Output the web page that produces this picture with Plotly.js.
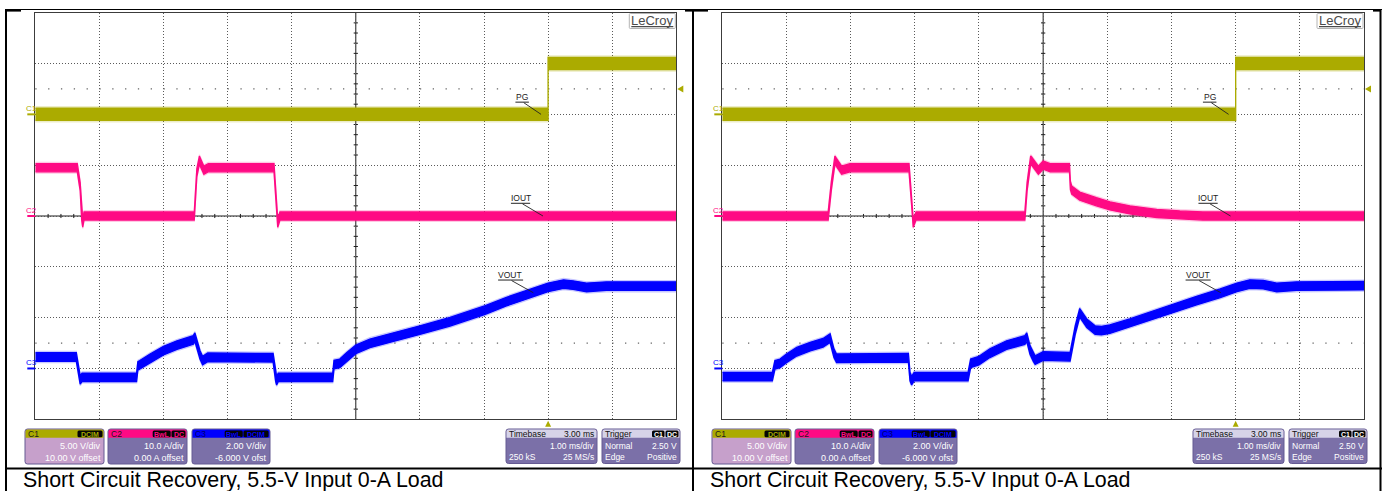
<!DOCTYPE html>
<html>
<head>
<meta charset="utf-8">
<script src="https://cdn.plot.ly/plotly-3.0.1.min.js"></script>
<style>
  html, body { margin: 0; padding: 0; background: #fff; }
  #scope { width: 1385px; height: 491px; }
</style>
</head>
<body>
<div id="scope"></div>
<script>
// ---- Captured waveforms (time in ms relative to the trigger) ----
// Left capture
const leftPgT   = [-8, 0, 0, 2];
const leftPgV   = [0, 0, 5, 5];
const leftIoutT = [-8, -7.345, -7.30, -7.276, -7.26, -7.24, -5.52, -5.48, -5.44, -5.37, -5.30, -4.276, -4.245, -4.218, -4.183, 2];
const leftIoutA = [9.5, 9.5, 5.8, 0, -1.4, 0, 0, 8.5, 11.0, 9.0, 9.5, 9.5, 3.1, -1.4, 0, 0];
const leftVoutT = [-8, -7.36, -7.33, -7.30, -7.27, -6.42, -6.40, -6.37, -6.21, -6.00, -5.79, -5.535, -5.51, -5.43, -5.39,
                   -5.31, -4.29, -4.25, -4.235, -4.21, -3.36, -3.34, -3.25, -3.14, -3.00, -2.78, -2.47, -2.00, -1.53, -0.98,
                   -0.65, -0.33, 0.00, 0.24, 0.39, 0.60, 0.91, 2.00];
const leftVoutV = [0.45, 0.45, 0.0, -0.45, -0.35, -0.35, 0.10, 0.14, 0.40, 0.70, 0.92, 1.12, 1.23, 0.53, 0.31,
                   0.44, 0.42, -0.35, -0.48, -0.35, -0.35, 0.15, 0.20, 0.46, 0.75, 0.99, 1.19, 1.51, 1.84, 2.30,
                   2.63, 2.92, 3.19, 3.32, 3.28, 3.19, 3.24, 3.24];

// Right capture
const rightPgT   = [-8, 0, 0, 2];
const rightPgV   = [0, 0, 5, 5];
const rightIoutT = [-8, -6.35, -6.30, -6.245, -6.14, -6.01, -5.09, -5.05, -5.025, -4.98, -3.285, -3.25, -3.195, -3.18,
                    -3.075, -3.0, -2.89, -2.59, -2.575, -2.555, -2.43, -2.17, -1.96, -1.65, -1.23, -0.87, -0.51, 2];
const rightIoutA = [0, 0, 6.0, 11.0, 9.0, 9.5, 9.5, 3.0, -1.4, 0, 0, 5.8, 11.0, 10.8,
                    9.0, 10.0, 9.5, 9.5, 6.0, 5.1, 3.9, 2.8, 2.0, 1.2, 0.5, 0.2, 0, 0];
const rightVoutT = [-8, -7.22, -7.18, -7.10, -7.00, -6.84, -6.63, -6.43, -6.32, -6.26, -6.22, -5.10, -5.075, -5.05, -5.01,
                    -4.17, -4.13, -4.00, -3.83, -3.57, -3.285, -3.255, -3.205, -3.155, -3.125, -3.00, -2.58, -2.50, -2.43, -2.32,
                    -2.19, -2.09, -1.96, -1.65, -1.23, -0.97, -0.61, -0.24, 0.02, 0.22, 0.43, 0.64, 0.95, 2.0];
const rightVoutV = [-0.32, -0.32, 0.14, 0.20, 0.40, 0.66, 0.86, 1.01, 1.19, 0.60, 0.40, 0.42, -0.32, -0.48, -0.32,
                    -0.32, 0.20, 0.31, 0.60, 0.92, 1.12, 1.23, 0.73, 0.46, 0.33, 0.49, 0.46, 1.51, 2.19, 1.78,
                    1.51, 1.49, 1.55, 1.78, 2.14, 2.37, 2.67, 2.96, 3.19, 3.32, 3.30, 3.19, 3.24, 3.26];

// Scope settings shown in the readout boxes
const channelNames  = ['C1', 'C2', 'C3'];
const traceLabels   = ['PG', 'IOUT', 'VOUT'];
const scaleText     = ['5.00 V/div', '10.0 A/div', '2.00 V/div'];
const offsetText    = ['10.00 V offset', '0.00 A offset', '-6.000 V ofst'];
const couplingTags  = [['DCIM'], ['BwL', 'DC'], ['BwL', 'DCIM']];
const voltsPerDiv   = [5, 10, 2];
const offsets       = [10, 0, -6];
const timeRange     = [-8, 2];          // 1.00 ms/div, trigger at 8th division
const triggerLevel  = 2.5;              // V on C1
const captionText   = 'Short Circuit Recovery, 5.5-V Input 0-A Load';

// ---- Styling ----
const W = 1385, H = 491;
const FONT = 'Liberation Sans, Arial, sans-serif';
const COLORS = ['#ABAB00', '#FF0A84', '#0000FF'];
const HALF_CORE = [0.6, 0.8, 0.17];      // noise band half-height per channel (channel units)
const HALF_FUZZ = [0.75, 1.05, 0.22];
const GRID = '#5a5a5a', FRAME = '#3c3c3c';
const BODY = '#7B70A8', BODY_SEL = '#C6A0CB', HEAD_LIGHT = '#D6D3E8';

const px = x => x / W;
const py = y => 1 - y / H;
const gridTop = 12.7, gridBot = 419.3;

const panels = [
  { x0: 35.3, x1: 676.3, dx: 0,   xa: 'x',  ya: ['y', 'y2', 'y3'],
    data: [[leftPgT, leftPgV], [leftIoutT, leftIoutA], [leftVoutT, leftVoutV]], captionX: 22 },
  { x0: 722.3, x1: 1364.0, dx: 687, xa: 'x2', ya: ['y4', 'y5', 'y6'],
    data: [[rightPgT, rightPgV], [rightIoutT, rightIoutA], [rightVoutT, rightVoutV]], captionX: 709 }
];

const chRange = i => [-offsets[i] - 4 * voltsPerDiv[i], -offsets[i] + 4 * voltsPerDiv[i]];
const toDiv = (i, v) => (v - chRange(i)[0]) / voltsPerDiv[i];

function band(t, v, half) {
  const x = t.concat(t.slice().reverse());
  const y = v.map(a => a + half).concat(v.slice().reverse().map(a => a - half));
  return { x, y };
}

const traces = [];
const shapes = [];
const annotations = [];
const layout = {
  width: W, height: H,
  margin: { l: 0, r: 0, t: 0, b: 0 },
  paper_bgcolor: '#ffffff', plot_bgcolor: '#ffffff',
  showlegend: false,
  font: { family: FONT, color: '#000' },
  shapes, annotations
};

const P = (x, y) => `${px(x)},${py(y)}`;
function roundRect(x0, y0, x1, y1, r, topOnly) {
  const rb = topOnly ? 0 : r;
  return `M${P(x0 + r, y0)} L${P(x1 - r, y0)} Q${P(x1, y0)} ${P(x1, y0 + r)} ` +
         `L${P(x1, y1 - rb)} Q${P(x1, y1)} ${P(x1 - rb, y1)} L${P(x0 + rb, y1)} Q${P(x0, y1)} ${P(x0, y1 - rb)} ` +
         `L${P(x0, y0 + r)} Q${P(x0, y0)} ${P(x0 + r, y0)} Z`;
}
function pathShape(d, fill, line, lw) {
  shapes.push({ type: 'path', xref: 'paper', yref: 'paper', path: d, fillcolor: fill,
                line: { color: line || fill, width: lw === undefined ? 0 : lw }, layer: 'above' });
}
function pline(x0, y0, x1, y1, color, width) {
  shapes.push({ type: 'line', xref: 'paper', yref: 'paper', x0: px(x0), y0: py(y0), x1: px(x1), y1: py(y1),
                line: { color, width }, layer: 'above' });
}
function ptext(x, y, text, size, color, anchor, weight) {
  annotations.push({ xref: 'paper', yref: 'paper', x: px(x), y: py(y), text, showarrow: false,
                     xanchor: anchor || 'left', yanchor: 'middle', borderpad: 0,
                     font: { family: FONT, size, color, weight: weight || 'normal' } });
}

panels.forEach((p, pi) => {
  const xName = p.xa, xKey = pi === 0 ? 'xaxis' : 'xaxis2';
  const baseY = p.ya[0];
  const divW = (p.x1 - p.x0) / 10, divH = (gridBot - gridTop) / 8;

  layout[xKey] = {
    domain: [px(p.x0), px(p.x1)], anchor: baseY, range: timeRange, dtick: 1, tick0: 0,
    showgrid: true, gridcolor: GRID, griddash: '1px,2px', gridwidth: 1, zeroline: false,
    showline: true, mirror: true, linecolor: FRAME, linewidth: 1,
    showticklabels: false, ticks: '', fixedrange: true
  };
  p.ya.forEach((yName, ci) => {
    const key = 'yaxis' + (yName === 'y' ? '' : yName.slice(1));
    const r = chRange(ci);
    if (ci === 0) {
      layout[key] = {
        domain: [py(gridBot), py(gridTop)], anchor: xName, range: r, dtick: voltsPerDiv[ci], tick0: r[0],
        showgrid: true, gridcolor: GRID, griddash: '1px,2px', gridwidth: 1, zeroline: false,
        showline: true, mirror: true, linecolor: FRAME, linewidth: 1,
        showticklabels: false, ticks: '', fixedrange: true
      };
    } else {
      layout[key] = { overlaying: baseY, anchor: xName, range: r, visible: false, fixedrange: true };
    }
  });

  // waveforms: faint outer noise band, then the dense core band
  p.data.forEach(([t, v], ci) => {
    [[HALF_FUZZ[ci], 0.22], [HALF_CORE[ci], 1]].forEach(([half, op]) => {
      const b = band(t, v, half);
      traces.push({
        type: 'scatter', mode: 'lines', x: b.x, y: b.y, xaxis: xName, yaxis: p.ya[ci],
        fill: 'toself', fillcolor: COLORS[ci], opacity: op,
        line: { color: COLORS[ci], width: 1.3 }, hoverinfo: 'skip'
      });
    });
  });

  // centre graticule with minor ticks
  const xd = xName + ' domain', yd = baseY + ' domain';
  const g = { type: 'line', xref: xd, yref: yd, layer: 'below' };
  shapes.push({ ...g, x0: 0, x1: 1, y0: 0.5, y1: 0.5, line: { color: '#1e1e1e', width: 1 } });
  shapes.push({ ...g, x0: 0.5, x1: 0.5, y0: 0, y1: 1, line: { color: '#1e1e1e', width: 1 } });
  for (let k = 1; k < 50; k++) {
    if (k % 5 === 0) continue;
    shapes.push({ ...g, x0: k / 50, x1: k / 50, y0: 0.5 - 0.005, y1: 0.5 + 0.005, line: { color: '#1e1e1e', width: 1 } });
  }
  for (let k = 1; k < 40; k++) {
    if (k % 5 === 0) continue;
    shapes.push({ ...g, x0: 0.5 - 0.0033, x1: 0.5 + 0.0033, y0: k / 40, y1: k / 40, line: { color: '#1e1e1e', width: 1 } });
  }
  // sparse level markers
  const trigDiv = toDiv(0, triggerLevel);
  [trigDiv, 1.5].forEach(d => {
    shapes.push({ ...g, x0: 0, x1: 1, y0: d / 8, y1: d / 8,
                  line: { color: '#666', width: 1.3, dash: `1.3px,${(divW / 5 - 1.3).toFixed(2)}px` } });
  });

  // trace name labels with leaders
  const lab = [
    { text: traceLabels[0], tx: 7.60, ty: 6.34, u0: 7.49, u1: 7.70, uy: 6.24, l: [7.62, 6.23, 7.89, 6.00] },
    { text: traceLabels[1], tx: 7.57, ty: 4.35, u0: 7.42, u1: 7.72, uy: 4.25, l: [7.60, 4.24, 7.92, 4.00] },
    { text: traceLabels[2], tx: 7.41, ty: 2.84, u0: 7.22, u1: 7.61, uy: 2.74, l: [7.43, 2.73, 7.77, 2.49] }
  ];
  lab.forEach(o => {
    annotations.push({ xref: xd, yref: yd, x: o.tx / 10, y: o.ty / 8, text: o.text, showarrow: false,
                       xanchor: 'center', yanchor: 'middle', borderpad: 0, font: { family: FONT, size: 8.5, color: '#222' } });
    shapes.push({ type: 'line', xref: xd, yref: yd, x0: o.u0 / 10, x1: o.u1 / 10, y0: o.uy / 8, y1: o.uy / 8,
                  line: { color: '#222', width: 1 }, layer: 'above' });
    shapes.push({ type: 'line', xref: xd, yref: yd, x0: o.l[0] / 10, y0: o.l[1] / 8, x1: o.l[2] / 10, y1: o.l[3] / 8,
                  line: { color: '#222', width: 0.9 }, layer: 'above' });
  });

  // channel ground markers at the left of the graticule
  channelNames.forEach((nm, ci) => {
    const gy = gridBot - toDiv(ci, 0) * divH;
    pline(p.x0 - 8, gy, p.x0, gy, COLORS[ci], 2);
    ptext(p.x0 - 10.5, gy - 5.5, nm, 8, COLORS[ci], 'left');
  });

  // trigger level arrow (right) and trigger position arrow (bottom)
  const ty = gridBot - trigDiv * divH;
  pathShape(`M${P(p.x1 + 7, ty - 3.5)} L${P(p.x1 + 7, ty + 3.5)} L${P(p.x1 + 1, ty)} Z`, COLORS[0]);
  const tx = p.x0 + (0 - timeRange[0]) * divW;
  pathShape(`M${P(tx - 3, gridBot + 7.5)} L${P(tx + 3, gridBot + 7.5)} L${P(tx, gridBot + 1.5)} Z`, COLORS[0]);

  // LeCroy badge
  const lx0 = p.x1 - 47, lx1 = p.x1 - 1;
  pathShape(roundRect(lx0, 13.5, lx1, 28.5, 1, false), '#ffffff', '#b4b4b4', 1);
  ptext((lx0 + lx1) / 2, 20.3, 'LeCroy', 13, '#4a4a4a', 'center');
  pline(lx0 + 2, 26.6, lx1 - 2, 26.6, '#4a4a4a', 1.2);

  // channel readout boxes
  const boxes = [[25, 104], [108, 187], [192, 270]];
  const tagW = { DCIM: 25, BwL: 18, DC: 14 };
  boxes.forEach(([bx0, bx1], ci) => {
    const x0 = bx0 + p.dx, x1 = bx1 + p.dx;
    pathShape(roundRect(x0, 429, x1, 464, 2.5, false), ci === 0 ? BODY_SEL : BODY, '#655a92', 1);
    pathShape(roundRect(x0 + 0.5, 429.5, x1 - 0.5, 437.8, 2, true), COLORS[ci]);
    ptext(x0 + 2, 433.6, channelNames[ci], 8.5, ci === 2 ? '#00006a' : '#1a1a1a', 'left');
    let tr = x1 - 1.5;
    couplingTags[ci].slice().reverse().forEach(tag => {
      const w = tagW[tag];
      pathShape(roundRect(tr - w, 430.6, tr, 437.2, 1.5, false), '#050505');
      ptext(tr - w / 2, 434, tag, 7, COLORS[ci], 'center', 'bold');
      tr -= w + 0.8;
    });
    ptext(x1 - 2, 445.8, scaleText[ci], 9, '#ffffff', 'right');
    ptext(x1 - 2, 457.6, offsetText[ci], 9, '#ffffff', 'right');
  });

  // timebase and trigger readouts
  const tb0 = 506 + p.dx, tb1 = 597 + p.dx;
  pathShape(roundRect(tb0, 429, tb1, 463.5, 2.5, false), BODY, '#655a92', 1);
  pathShape(roundRect(tb0 + 0.5, 429.5, tb1 - 0.5, 437.8, 2, true), HEAD_LIGHT);
  ptext(tb0 + 2, 433.6, 'Timebase', 8.5, '#111', 'left');
  ptext(tb1 - 2, 433.6, '3.00 ms', 8.5, '#111', 'right');
  ptext(tb1 - 2, 445.8, '1.00 ms/div', 8.5, '#ffffff', 'right');
  ptext(tb0 + 2, 457.4, '250 kS', 8.5, '#ffffff', 'left');
  ptext(tb1 - 2, 457.4, '25 MS/s', 8.5, '#ffffff', 'right');

  const tg0 = 602 + p.dx, tg1 = 680 + p.dx;
  pathShape(roundRect(tg0, 429, tg1, 463.5, 2.5, false), BODY, '#655a92', 1);
  pathShape(roundRect(tg0 + 0.5, 429.5, tg1 - 0.5, 437.8, 2, true), HEAD_LIGHT);
  ptext(tg0 + 2, 433.6, 'Trigger', 8.5, '#111', 'left');
  pathShape(roundRect(tg1 - 28, 430.6, tg1 - 15.5, 437.2, 1.5, false), '#050505');
  ptext(tg1 - 21.8, 434, 'C1', 7, '#ffffff', 'center', 'bold');
  pathShape(roundRect(tg1 - 14.5, 430.6, tg1 - 1.5, 437.2, 1.5, false), '#050505');
  ptext(tg1 - 8, 434, 'DC', 7, '#ffffff', 'center', 'bold');
  ptext(tg0 + 2, 445.8, 'Normal', 8.5, '#ffffff', 'left');
  ptext(tg1 - 2, 445.8, '2.50 V', 8.5, '#ffffff', 'right');
  ptext(tg0 + 2, 457.4, 'Edge', 8.5, '#ffffff', 'left');
  ptext(tg1 - 2, 457.4, 'Positive', 8.5, '#ffffff', 'right');

  // caption cell
  ptext(p.captionX, 479.5, captionText, 21.4, '#000000', 'left');
});

// table rules around the two captures
pline(5, 9.5, 1382, 9.5, '#000', 1);
pline(7, 10.6, 21, 10.6, '#000', 2);
pline(685, 10.6, 708, 10.6, '#000', 2);
pline(1373, 10.6, 1381, 10.6, '#000', 2);
pline(6, 9, 6, 491, '#000', 2);
pline(693, 9, 693, 491, '#000', 2);
pline(1380.5, 9, 1380.5, 491, '#000', 2);
pline(5, 468.5, 1382, 468.5, '#000', 2);

Plotly.newPlot('scope', traces, layout, { staticPlot: true, displayModeBar: false });
</script>
</body>
</html>
